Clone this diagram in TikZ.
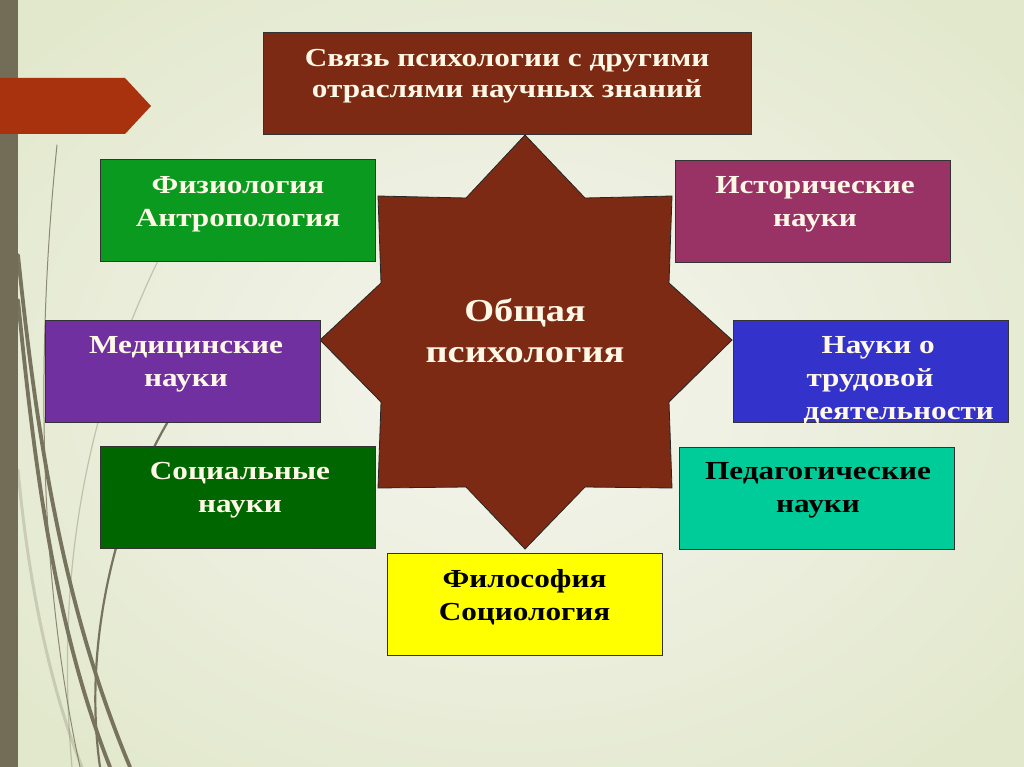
\documentclass[tikz,border=0pt]{standalone}
\usepackage{fontspec}
\setmainfont{Liberation Serif}[FakeStretch=1.2]
\usetikzlibrary{shapes.geometric}
\definecolor{bgout}{HTML}{E2E8CC}
\definecolor{bgin}{HTML}{F5F5EF}
\definecolor{barcol}{HTML}{736C56}
\definecolor{arrowcol}{HTML}{A8320E}
\definecolor{brown}{HTML}{7C2A13}
\definecolor{physgreen}{HTML}{0A9A20}
\definecolor{histcol}{HTML}{993366}
\definecolor{medcol}{HTML}{7030A0}
\definecolor{laborcol}{HTML}{3333CC}
\definecolor{soccol}{HTML}{006600}
\definecolor{pedcol}{HTML}{00CC99}
\definecolor{philcol}{HTML}{FFFF00}
\definecolor{lighttext}{HTML}{FFF8E6}
\definecolor{linecol}{HTML}{77735C}
\begin{document}
\begin{tikzpicture}[x=1pt,y=-1pt,
  box/.style={draw=black!80, line width=0.8pt, minimum width=275pt, minimum height=102pt, inner sep=0pt},
  boxtext/.style={font=\bfseries\fontsize{26}{33}\selectfont, align=center, text=lighttext},
  deco/.style={draw=linecol, line cap=round}
]
\useasboundingbox (0,0) rectangle (1024,767);
\shade[inner color=bgin, outer color=bgout] (-150,-120) rectangle (1174,887);
% decorative curves
\draw[deco, line width=1pt, opacity=0.8] (57,145) .. controls (38,330) and (35,560) .. (80,767);
\draw[deco, line width=1.2pt, opacity=0.35] (190,200) .. controls (110,340) and (50,520) .. (72,767);
\draw[deco, line width=3pt, opacity=0.25] (18,470) .. controls (30,600) and (55,700) .. (82,767);
\draw[deco, line width=3.8pt] (18,255) .. controls (35,420) and (60,600) .. (130,767);
\draw[deco, line width=3.8pt] (18,300) .. controls (33,450) and (52,620) .. (110,767);
\draw[deco, line width=2.2pt] (175,410) .. controls (118,500) and (82,640) .. (100,767);
% left bar and arrow
\fill[barcol] (0,0) rectangle (18,767);
\fill[arrowcol] (0,78) -- (125,78) -- (151,106) -- (125,134) -- (0,134) -- cycle;
% star
\draw[fill=brown, draw=black!85, line width=0.8pt]
  (525,135) -- (466,198) -- (378,196) -- (381,283) -- (320,340) -- (381,402) -- (378,488)
  -- (466,487) -- (525,549) -- (585,487) -- (672,488) -- (669,402) -- (732,340) -- (669,283)
  -- (672,196) -- (585,198) -- cycle;
\node[font=\bfseries\fontsize{32}{41}\selectfont, align=center, text=lighttext] (star) at (525,331) {Общая\\психология};
% title
\node[box, fill=brown, minimum width=488pt] (title) at (507,83) {};
\node[boxtext, font=\bfseries\fontsize{26}{31}\selectfont] (titletext) at (507,76) {Связь психологии с другими\\отраслями научных знаний};
% boxes
\node[box, fill=physgreen] (phys) at (237.5,210.5) {};
\node[boxtext] (physt) at (238,204) {Физиология\\Антропология};
\node[box, fill=histcol] (hist) at (812.5,211.5) {};
\node[boxtext] (histt) at (815,204) {Исторические\\науки};
\node[box, fill=medcol] (med) at (182.5,371) {};
\node[boxtext] (medt) at (186,364) {Медицинские\\науки};
\node[box, fill=laborcol] (labor) at (870.5,371.5) {};
\node[boxtext, align=left, anchor=west] (labort) at (800,380) {\hspace*{18pt}Науки о\\\hspace*{3pt}трудовой\\деятельности};
\node[box, fill=soccol] (soc) at (237.5,497.5) {};
\node[boxtext] (soct) at (240,490) {Социальные\\науки};
\node[box, fill=pedcol] (ped) at (816.5,498) {};
\node[boxtext, text=black] (pedt) at (818,490) {Педагогические\\науки};
\node[box, fill=philcol] (phil) at (524.5,604) {};
\node[boxtext, text=black] (philt) at (524.5,597) {Философия\\Социология};
\end{tikzpicture}
\end{document}
